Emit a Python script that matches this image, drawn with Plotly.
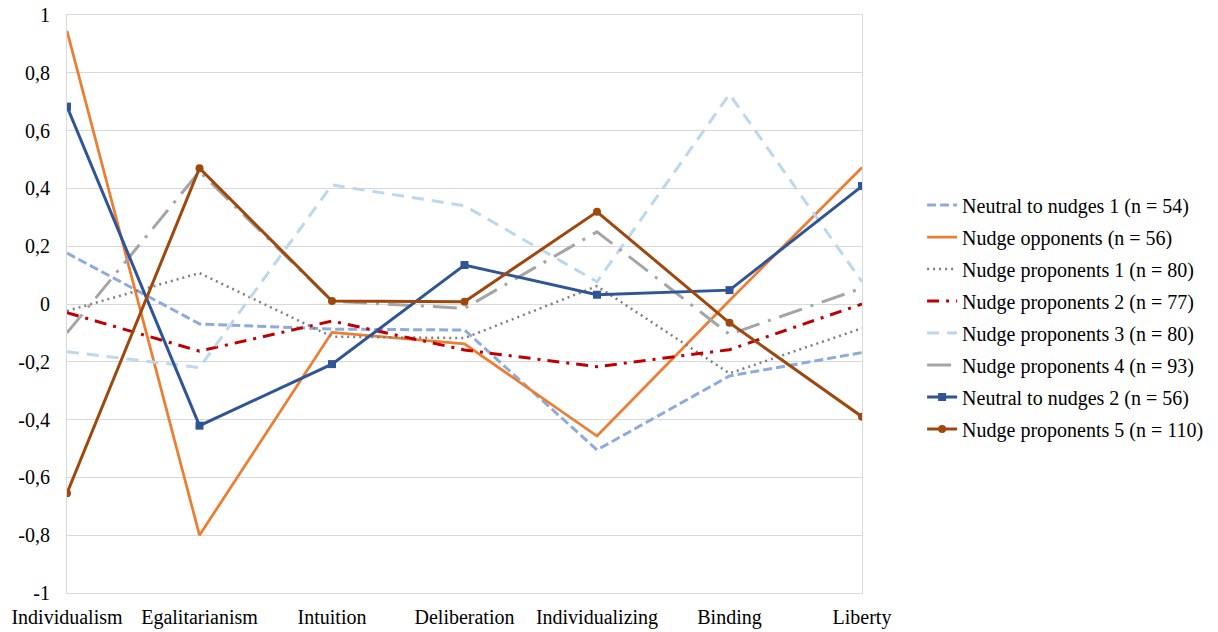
import plotly.graph_objects as go

categories = ["Individualism", "Egalitarianism", "Intuition", "Deliberation",
              "Individualizing", "Binding", "Liberty"]

neutral_1 = [0.176, -0.069, -0.087, -0.090, -0.505, -0.249, -0.168]
opponents = [0.945, -0.800, -0.098, -0.138, -0.457, 0.012, 0.472]
proponents_1 = [-0.024, 0.107, -0.113, -0.118, 0.062, -0.240, -0.084]
proponents_2 = [-0.030, -0.163, -0.059, -0.159, -0.217, -0.158, 0.000]
proponents_3 = [-0.165, -0.220, 0.412, 0.340, 0.077, 0.726, 0.077]
proponents_4 = [-0.100, 0.458, 0.010, -0.015, 0.250, -0.105, 0.055]
neutral_2 = [0.683, -0.421, -0.208, 0.135, 0.032, 0.048, 0.408]
proponents_5 = [-0.655, 0.470, 0.010, 0.008, 0.319, -0.065, -0.390]

series_names = [
    "Neutral to nudges 1 (n = 54)",
    "Nudge opponents (n = 56)",
    "Nudge proponents 1 (n = 80)",
    "Nudge proponents 2 (n = 77)",
    "Nudge proponents 3 (n = 80)",
    "Nudge proponents 4 (n = 93)",
    "Neutral to nudges 2 (n = 56)",
    "Nudge proponents 5 (n = 110)",
]

y_tick_values = [1, 0.8, 0.6, 0.4, 0.2, 0, -0.2, -0.4, -0.6, -0.8, -1]
y_tick_labels = ["1", "0,8", "0,6", "0,4", "0,2", "0", "-0,2", "-0,4", "-0,6", "-0,8", "-1"]

series_values = [neutral_1, opponents, proponents_1, proponents_2,
                 proponents_3, proponents_4, neutral_2, proponents_5]

styles = [
    dict(color="#8FAADC", width=3, dash="9px,4px", marker=None),
    dict(color="#ED7D31", width=2.75, dash="solid", marker=None),
    dict(color="#7F7F7F", width=2.5, dash="2px,4px", marker=None),
    dict(color="#C00000", width=3, dash="12px,7px,3px,7px", marker=None),
    dict(color="#BDD7EE", width=3, dash="12px,8px", marker=None),
    dict(color="#A5A5A5", width=3, dash="24px,9px,3px,9px", marker=None),
    dict(color="#2F5597", width=3, dash="solid", marker="square"),
    dict(color="#9E480E", width=3, dash="solid", marker="circle"),
]

x_idx = list(range(len(categories)))

FONT = "Liberation Serif"

fig = go.Figure()
for name, vals, st in zip(series_names, series_values, styles):
    mode = "lines+markers" if st["marker"] else "lines"
    fig.add_trace(go.Scatter(
        x=x_idx, y=vals, name=name, mode=mode,
        legendgroup=name,
        line=dict(color=st["color"], width=st["width"], dash=st["dash"]),
        marker=dict(symbol=st["marker"] or "circle", size=8, color=st["color"]),
    ))

fig.update_layout(
    width=1218, height=632,
    margin=dict(l=67, r=356, t=15, b=39, autoexpand=False),
    plot_bgcolor="white", paper_bgcolor="white",
    font=dict(family=FONT, size=20, color="#000000"),
    showlegend=True,
    legend=dict(
        x=1.0756, xanchor="left", y=0.4775, yanchor="middle",
        font=dict(family=FONT, size=20), tracegroupgap=3,
        bgcolor="rgba(0,0,0,0)",
    ),
    xaxis=dict(
        tickmode="array", tickvals=x_idx, ticktext=categories,
        range=[0, len(categories) - 1],
        showgrid=False, zeroline=False, automargin=False,
        showline=True, linecolor="#D9D9D9", linewidth=1, mirror=True,
        ticks="", ticklabelstandoff=6,
        tickfont=dict(family=FONT, size=20),
    ),
    yaxis=dict(
        tickmode="array", tickvals=y_tick_values, ticktext=y_tick_labels,
        range=[-1, 1], automargin=False,
        showgrid=True, gridcolor="#D9D9D9", gridwidth=1,
        zeroline=False,
        showline=True, linecolor="#D9D9D9", linewidth=1, mirror=True,
        ticks="", ticklabelstandoff=12,
        tickfont=dict(family=FONT, size=20),
    ),
)

fig.write_html("out.html")
